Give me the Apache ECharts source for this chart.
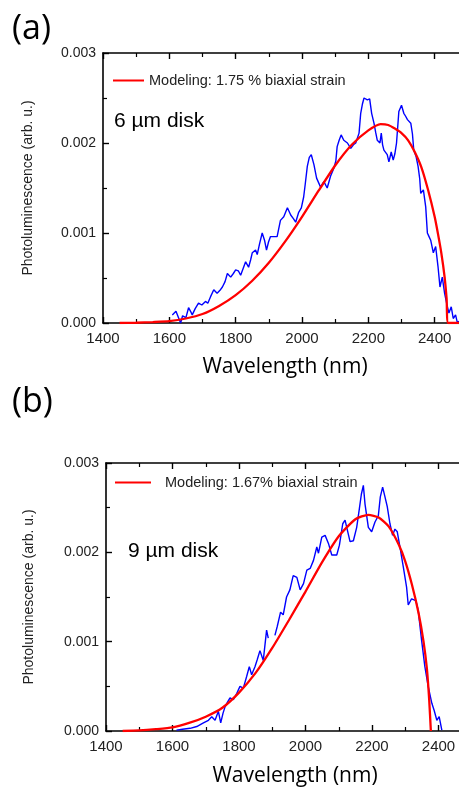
<!DOCTYPE html>
<html>
<head>
<meta charset="utf-8">
<script src="https://cdn.jsdelivr.net/npm/echarts@6/dist/echarts.min.js"></script>
<style>html,body{margin:0;padding:0;background:#fff}#c{width:459px;height:787px}</style>
</head>
<body>
<div id="c"></div>
<script>
// ---- Panel (a): 6 µm disk ----
const aWl = [1609,1620,1626,1634,1640,1650,1658,1664,1669,1678,1688,1698,1709,1716,1724,1734,1744,1752,1760,1768,1775,1785,1793,1800,1808,1815,1822,1830,1839,1845,1850,1860,1865,1872,1880,1887,1893,1899,1905,1915,1925,1935,1945,1956,1966,1974,1981,1990,1998,2005,2010,2016,2022,2028,2036,2044,2050,2056,2066,2076,2086,2096,2102,2106,2112,2118,2126,2137,2147,2155,2162,2172,2177,2182,2187,2193,2197,2204,2210,2217,2222,2227,2235,2239,2243,2247,2252,2257,2262,2269,2275,2280,2285,2292,2300,2307,2312,2318,2328,2333,2337,2344,2350,2355,2358,2366,2373,2378,2383,2388,2396,2403,2410,2416,2423,2430,2436,2443,2450,2456,2463,2468,2475];
const aPl = [0.00009,0.00013,0.00011,0.00000,0.00008,0.00006,0.00017,0.00013,0.00009,0.00016,0.00022,0.00020,0.00024,0.00022,0.00029,0.00037,0.00033,0.00036,0.00040,0.00046,0.00055,0.00051,0.00055,0.00059,0.00058,0.00053,0.00060,0.00068,0.00062,0.00070,0.00078,0.00081,0.00076,0.00088,0.00100,0.00092,0.00081,0.00090,0.00096,0.00096,0.00096,0.00114,0.00118,0.00128,0.00120,0.00116,0.00112,0.00123,0.00128,0.00140,0.00155,0.00174,0.00184,0.00187,0.00176,0.00161,0.00156,0.00151,0.00157,0.00150,0.00163,0.00172,0.00180,0.00196,0.00203,0.00209,0.00203,0.00200,0.00194,0.00198,0.00200,0.00211,0.00233,0.00243,0.00250,0.00248,0.00248,0.00249,0.00233,0.00222,0.00212,0.00203,0.00200,0.00211,0.00198,0.00192,0.00190,0.00187,0.00179,0.00190,0.00181,0.00188,0.00200,0.00235,0.00242,0.00233,0.00230,0.00226,0.00222,0.00210,0.00192,0.00185,0.00174,0.00160,0.00144,0.00148,0.00129,0.00100,0.00096,0.00092,0.00078,0.00085,0.00063,0.00040,0.00051,0.00033,0.00022,0.00011,0.00018,0.00005,0.00009,0.00001,0.00002];
const aFitWl = [1450,1500,1550,1600,1650,1700,1750,1800,1850,1900,1950,2000,2050,2100,2150,2200,2237,2260,2280,2300,2320,2340,2360,2380,2400,2410,2420,2430,2436,2441,2480];
const aFitPl = [0,0.000003,0.00001,0.00002,0.00005,0.0001,0.00019,0.00031,0.00047,0.00067,0.00091,0.00118,0.00147,0.00175,0.00198,0.00214,0.00221,0.00220,0.00216,0.00211,0.00203,0.00190,0.00173,0.00148,0.00118,0.00099,0.00078,0.00051,0.00027,0,0];
const aFitName = 'Modeling: 1.75 % biaxial strain';

// ---- Panel (b): 9 µm disk ----
const bWl = [1612,1630,1653,1673,1693,1708,1718,1728,1738,1745,1752,1758,1765,1773,1783,1793,1803,1813,1823,1831,1838,1848,1855,1863,1873,1883,1888,1898,1908,1915,1925,1933,1943,1953,1963,1974,1984,1994,2004,2014,2024,2034,2039,2049,2059,2069,2079,2094,2102,2112,2119,2124,2134,2144,2154,2162,2168,2174,2179,2189,2199,2209,2219,2225,2232,2239,2246,2254,2262,2269,2276,2284,2294,2304,2309,2319,2332,2339,2349,2359,2369,2380,2387,2395,2402,2410];
const bPl = [0.00001,0.00002,0.00003,0.00005,0.00009,0.00012,0.00016,0.00012,0.00022,0.00009,0.00020,0.00027,0.00032,0.00037,0.00035,0.00042,0.00050,0.00048,0.00061,0.00072,0.00063,0.00072,0.00080,0.00090,0.00079,0.00113,0.00104,null,0.00107,0.00117,0.00133,0.00130,0.00150,0.00158,0.00174,0.00172,0.00158,0.00165,0.00180,0.00182,0.00191,0.00206,0.00199,0.00217,0.00219,0.00210,0.00197,0.00197,0.00208,0.00232,0.00236,0.00228,0.00212,0.00213,0.00228,0.00249,0.00265,0.00275,0.00254,0.00228,0.00223,0.00234,0.00241,0.00262,0.00273,0.00262,0.00251,0.00232,0.00219,0.00226,0.00223,0.00206,0.00184,0.00161,0.00141,0.00148,0.00146,0.00135,0.00102,0.00072,0.00050,0.00031,0.00023,0.00012,0.00016,0.00001];
const bFitWl = [1450,1500,1550,1600,1650,1700,1750,1800,1850,1900,1950,2000,2050,2100,2150,2189,2220,2250,2280,2300,2320,2340,2355,2365,2372,2377];
const bFitPl = [0,0.000006,0.00002,0.00004,0.00009,0.00016,0.00026,0.00043,0.00065,0.00093,0.00124,0.00156,0.00189,0.00218,0.00237,0.00242,0.00239,0.00229,0.00209,0.00190,0.00164,0.00132,0.00100,0.00070,0.00035,0];
const bFitName = 'Modeling: 1.67% biaxial strain';

// ---- Axis ticks ----
const xMin = 1400, xMax = 2600, xStep = 200;
const yMin = 0, yMax = 0.003, yStep = 0.001;

const pairs = (xs, ys) => xs.map((x, i) => [x, ys[i]]);
const FONT = 'Liberation Sans, Arial, sans-serif';

function xAx(grid, pos) {
  const bottom = pos === 'bottom';
  return {
    gridIndex: grid, type: 'value', position: pos, min: xMin, max: xMax, interval: xStep,
    axisLine: { show: true, onZero: false, lineStyle: { color: '#000', width: 1.6 } },
    axisTick: { show: true, inside: true, length: 6, lineStyle: { color: '#000', width: 1.4 } },
    minorTick: { show: true, splitNumber: 2, length: 4, lineStyle: { color: '#000', width: 1.2 } },
    splitLine: { show: false },
    axisLabel: { show: bottom, margin: 8, fontSize: 15, color: '#222', fontFamily: FONT,
      formatter: v => String(v) }
  };
}
function yAx(grid, gap) {
  return {
    gridIndex: grid, type: 'value', min: yMin, max: yMax, interval: yStep,
    name: 'Photoluminescence (arb. u.)', nameLocation: 'middle', nameGap: gap,
    nameTextStyle: { fontSize: 14, color: '#222', fontFamily: FONT },
    axisLine: { show: true, lineStyle: { color: '#000', width: 1.6 } },
    axisTick: { show: true, inside: true, length: 6, lineStyle: { color: '#000', width: 1.4 } },
    minorTick: { show: true, splitNumber: 2, length: 4, lineStyle: { color: '#000', width: 1.2 } },
    splitLine: { show: false },
    axisLabel: { margin: 7, fontSize: 14, color: '#222', fontFamily: FONT,
      formatter: v => v.toFixed(3) }
  };
}

const chart = echarts.init(document.getElementById('c'), null, { renderer: 'canvas' });
chart.setOption({
  backgroundColor: '#fff',
  animation: false,
  grid: [
    { left: 103, top: 53, width: 398, height: 270, containLabel: false, outerBoundsMode: 'none' },
    { left: 106, top: 463, width: 399, height: 268, containLabel: false, outerBoundsMode: 'none' }
  ],
  xAxis: [xAx(0, 'bottom'), xAx(0, 'top'), xAx(1, 'bottom'), xAx(1, 'top')],
  yAxis: [yAx(0, 68), yAx(1, 70)],
  legend: [
    { left: 113, top: 73, padding: 0, data: [{ name: aFitName, icon: 'rect' }], itemWidth: 31, itemHeight: 2,
      textStyle: { fontSize: 14.5, color: '#222', fontFamily: FONT } },
    { left: 115, top: 475, padding: 0, data: [{ name: bFitName, icon: 'rect' }], itemWidth: 36, itemHeight: 2,
      textStyle: { fontSize: 14.5, color: '#222', fontFamily: FONT, padding: [0, 0, 0, 9] } }
  ],
  graphic: [
    { type: 'text', left: 12, top: 12, style: { text: '(a)', fontSize: 34, fill: '#000', fontFamily: 'Open Sans, sans-serif' } },
    { type: 'text', left: 12, top: 385, style: { text: '(b)', fontSize: 34, fill: '#000', fontFamily: 'Open Sans, sans-serif' } },
    { type: 'text', left: 114, top: 111, style: { text: '6 µm disk', fontSize: 21, fill: '#000', fontFamily: FONT } },
    { type: 'text', left: 128, top: 541, style: { text: '9 µm disk', fontSize: 21, fill: '#000', fontFamily: FONT } },
    { type: 'text', x: 285, y: 367, style: { text: 'Wavelength (nm)', fontSize: 21, fill: '#000', fontFamily: 'Open Sans, sans-serif', textAlign: 'center', textVerticalAlign: 'middle' } },
    { type: 'text', x: 295, y: 776, style: { text: 'Wavelength (nm)', fontSize: 21, fill: '#000', fontFamily: 'Open Sans, sans-serif', textAlign: 'center', textVerticalAlign: 'middle' } }
  ],
  series: [
    { name: '6 µm disk PL', type: 'line', xAxisIndex: 0, yAxisIndex: 0, data: pairs(aWl, aPl),
      showSymbol: false, lineStyle: { color: '#0000ff', width: 1.4 }, itemStyle: { color: '#0000ff' } },
    { name: aFitName, type: 'line', xAxisIndex: 0, yAxisIndex: 0, data: pairs(aFitWl, aFitPl),
      showSymbol: false, smooth: 0.2, lineStyle: { color: '#ff0000', width: 2.3 }, itemStyle: { color: '#ff0000' } },
    { name: '9 µm disk PL', type: 'line', xAxisIndex: 2, yAxisIndex: 1, data: pairs(bWl, bPl),
      showSymbol: false, connectNulls: false, lineStyle: { color: '#0000ff', width: 1.4 }, itemStyle: { color: '#0000ff' } },
    { name: bFitName, type: 'line', xAxisIndex: 2, yAxisIndex: 1, data: pairs(bFitWl, bFitPl),
      showSymbol: false, smooth: 0.2, lineStyle: { color: '#ff0000', width: 2.3 }, itemStyle: { color: '#ff0000' } }
  ]
});
</script>
</body>
</html>
